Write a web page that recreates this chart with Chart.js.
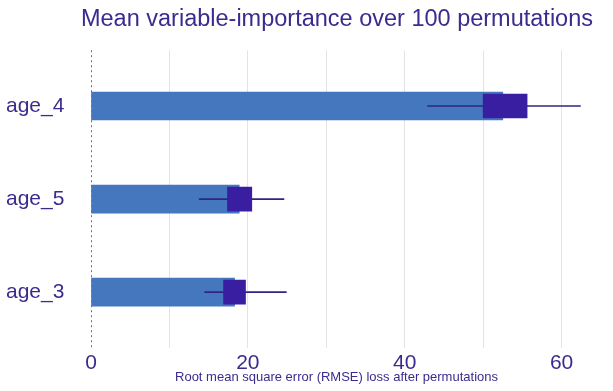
<!DOCTYPE html>
<html>
<head>
<meta charset="utf-8">
<script src="https://cdn.jsdelivr.net/npm/chart.js@4"></script>
<style>
  html, body { margin: 0; padding: 0; background: #ffffff; }
  #wrap { width: 613px; height: 391px; }
</style>
</head>
<body>
<div id="wrap"><canvas id="graph"></canvas></div>
<script>
// 변수별 permutation importance 값
var categories = ["age_4", "age_5", "age_3"];
var meanLoss = [52.5, 18.9, 18.3];
var boxLow = [50.0, 17.4, 16.9];
var boxHigh = [55.6, 20.5, 19.7];
var whiskerLow = [42.9, 13.8, 14.5];
var whiskerHigh = [62.4, 24.6, 24.9];
var xTicks = [0, 10, 20, 30, 40, 50, 60];

var textColor = "#3b2b8e";
var fontFamily = "'Liberation Sans', Arial, sans-serif";

function rows(values) {
    return values.map(function (v, i) { return { x: v, y: i }; });
}
function ranges(lo, hi) {
    return lo.map(function (v, i) { return { x: [v, hi[i]], y: i }; });
}

// x=0 위치의 점선 (막대보다 먼저 그림)
var zeroLine = {
    id: "zeroLine",
    beforeDatasetsDraw: function (chart) {
        var c = chart.ctx, area = chart.chartArea;
        var x = Math.round(chart.scales.x.getPixelForValue(0)) + 0.5;
        c.save();
        c.strokeStyle = "#5f7096";
        c.lineWidth = 1;
        c.setLineDash([2, 3]);
        c.beginPath();
        c.moveTo(x, area.top);
        c.lineTo(x, area.bottom);
        c.stroke();
        c.restore();
    }
};

var ctx = document.getElementById("graph").getContext("2d");
var chart = new Chart(ctx, {
    type: "bar",
    data: {
        datasets: [
            {
                label: "mean",
                data: rows(meanLoss),
                backgroundColor: "#4477bd",
                barThickness: 28,
                order: 3
            },
            {
                label: "whisker",
                data: ranges(whiskerLow, whiskerHigh),
                backgroundColor: "#2f2585",
                barThickness: 1,
                order: 2
            },
            {
                label: "box",
                data: ranges(boxLow, boxHigh),
                backgroundColor: "#3a1ea2",
                barThickness: 24,
                order: 1
            }
        ]
    },
    plugins: [zeroLine],
    options: {
        indexAxis: "y",
        responsive: true,
        maintainAspectRatio: false,
        animation: false,
        grouped: false,
        layout: { padding: { left: 6, right: 20, top: 0, bottom: 0 } },
        plugins: {
            legend: { display: false },
            tooltip: { enabled: false },
            title: {
                display: true,
                align: "end",
                text: "Mean variable-importance over 100 permutations",
                color: textColor,
                font: { family: fontFamily, size: 23.5, weight: "normal" },
                padding: { top: 5, bottom: 17 }
            }
        },
        scales: {
            x: {
                type: "linear",
                min: 0,
                max: 62.6,
                afterBuildTicks: function (scale) {
                    scale.ticks = xTicks.map(function (v) { return { value: v }; });
                },
                afterFit: function (scale) { scale.height = 43; },
                ticks: {
                    color: textColor,
                    font: { family: fontFamily, size: 21 },
                    padding: 3,
                    callback: function (v) { return v % 20 === 0 ? v : ""; }
                },
                grid: {
                    drawTicks: false,
                    color: function (c) {
                        return c.tick && c.tick.value === 0 ? "rgba(0,0,0,0)" : "#e4e4e4";
                    }
                },
                border: { display: false },
                title: {
                    display: true,
                    text: "Root mean square error (RMSE) loss after permutations",
                    color: textColor,
                    font: { family: fontFamily, size: 13 },
                    padding: { top: 0, bottom: 6 }
                }
            },
            y: {
                type: "linear",
                reverse: true,
                offset: false,
                min: -0.6,
                max: 2.6,
                afterBuildTicks: function (scale) {
                    scale.ticks = categories.map(function (c, i) { return { value: i }; });
                },
                afterFit: function (scale) { scale.width = 85; },
                ticks: {
                    color: textColor,
                    crossAlign: "far",
                    font: { family: fontFamily, size: 21 },
                    callback: function (v) { return categories[v]; }
                },
                grid: { display: false },
                border: { display: false }
            },
            // 오른쪽 여백용 빈 축
            yRight: {
                type: "linear",
                position: "right",
                afterFit: function (scale) { scale.width = 11; },
                ticks: { display: false },
                grid: { display: false },
                border: { display: false }
            }
        }
    }
});
</script>
</body>
</html>
